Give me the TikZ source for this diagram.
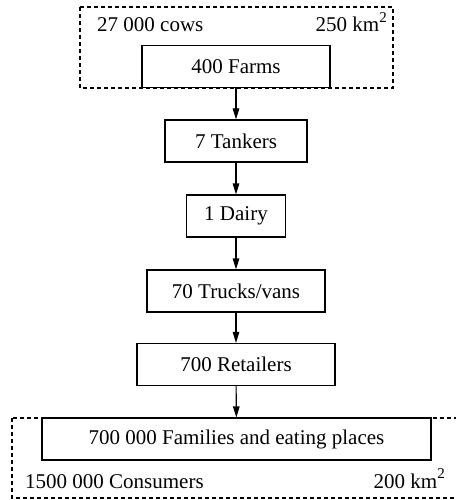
\documentclass[tikz,border=0pt]{standalone}
\usepackage{fontspec}
\setmainfont{Liberation Serif}
\usetikzlibrary{arrows.meta}
\newcommand{\sqr}{\raisebox{0.45em}{\fontsize{15}{15}\selectfont 2}}
\begin{document}
\begin{tikzpicture}[x=1pt,y=-1pt,
  stage/.style={draw,line width=1.1pt,minimum height=42pt,inner sep=0pt,font=\fontsize{21}{24}\selectfont},
  lbl/.style={inner sep=0pt,font=\fontsize{21}{24}\selectfont},
  region/.style={draw,line width=1.1pt,dash pattern=on 4pt off 3pt},
  flow/.style={-{Triangle[length=11pt,width=6.5pt]},line width=1.1pt}]
\useasboundingbox (0,0) rectangle (455,500);
\draw[region] (80,7) rectangle (393,88);
\draw[region] (12,418) rectangle (470,498);
\node[stage,minimum width=188pt] (farms) at (236,66.5) {400 Farms};
\node[stage,minimum width=142pt] (tankers) at (236,141) {7 Tankers};
\node[stage,minimum width=99pt] (dairy) at (236,216) {1 Dairy};
\node[stage,minimum width=178pt] (trucks) at (236,291) {70 Trucks/vans};
\node[stage,minimum width=198pt] (retailers) at (236,364.5) {700 Retailers};
\node[stage,minimum width=389pt] (families) at (236.5,439) {700 000 Families and eating places};
\node[lbl,anchor=base west] (cows) at (97,32) {27 000 cows};
\node[lbl,anchor=base east] (area1) at (387,32) {250 km\sqr};
\node[lbl,anchor=base west] (consumers) at (25,488) {1500 000 Consumers};
\node[lbl,anchor=base east] (area2) at (445,488) {200 km\sqr};
\draw[flow] (farms) -- (tankers);
\draw[flow] (tankers) -- (dairy);
\draw[flow] (dairy) -- (trucks);
\draw[flow] (trucks) -- (retailers);
\draw[flow] (retailers) -- (families);
\end{tikzpicture}
\end{document}
